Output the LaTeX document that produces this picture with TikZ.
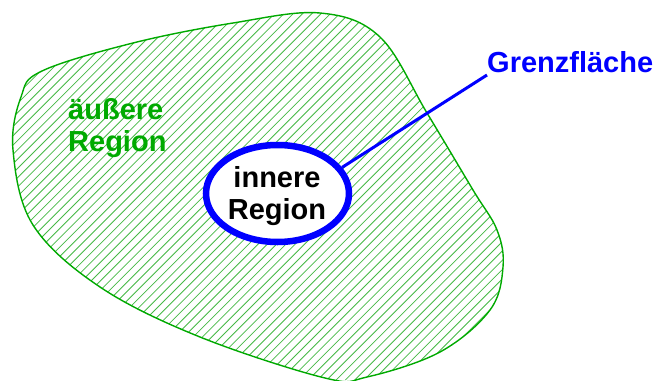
\documentclass[tikz,border=0pt]{standalone}
\usepackage{fontspec}
\setmainfont{Liberation Sans}
\usetikzlibrary{shapes.geometric}
\definecolor{rgreen}{RGB}{0,170,0}
\definecolor{hgreen}{RGB}{70,185,70}
\definecolor{rblue}{RGB}{0,0,255}
\tikzset{
  lbl/.style={font=\bfseries\fontsize{29}{32}\selectfont, inner sep=0pt},
  hatch/.style={hgreen, line width=0.8pt},
}
\def\blobpath{plot[smooth cycle, tension=0.6] coordinates {
   (13,150) (21,97) (42,71) (133,43) (233,23) (320,13) (380,37) (427,113)
   (473,190) (497,230) (503,267) (490,310) (440,352) (367,377) (325,378)
   (200,337) (100,287) (33,225)}}
\begin{document}
\begin{tikzpicture}[x=1pt,y=-1pt]
\useasboundingbox (0,0) rectangle (660,380);
\fill[white] (0,0) rectangle (660,380);
\begin{scope}
  \clip \blobpath;
  \foreach \c in {0,9.3,...,900} {
    \draw[hatch] (\c,0) -- (\c-380,380);
  }
\end{scope}
\draw[rgreen, line width=1.4pt] \blobpath;
\node[draw=rblue, fill=white, line width=6.5pt, ellipse, minimum width=143pt, minimum height=97pt, inner sep=0pt] (inner) at (277.5,193.5) {};
\node[lbl, align=center, text=black] (innert) at (277,196) {innere\\Region};
\node[lbl, align=left, text=rgreen, anchor=west] (outer) at (68,128) {äußere\\Region};
\node[lbl, text=rblue, anchor=base west] (gf) at (487,72) {Grenzfläche};
\coordinate (gfend) at (487,75);
\draw[rblue, line width=3pt] (inner.22) -- (gfend);
\end{tikzpicture}
\end{document}
